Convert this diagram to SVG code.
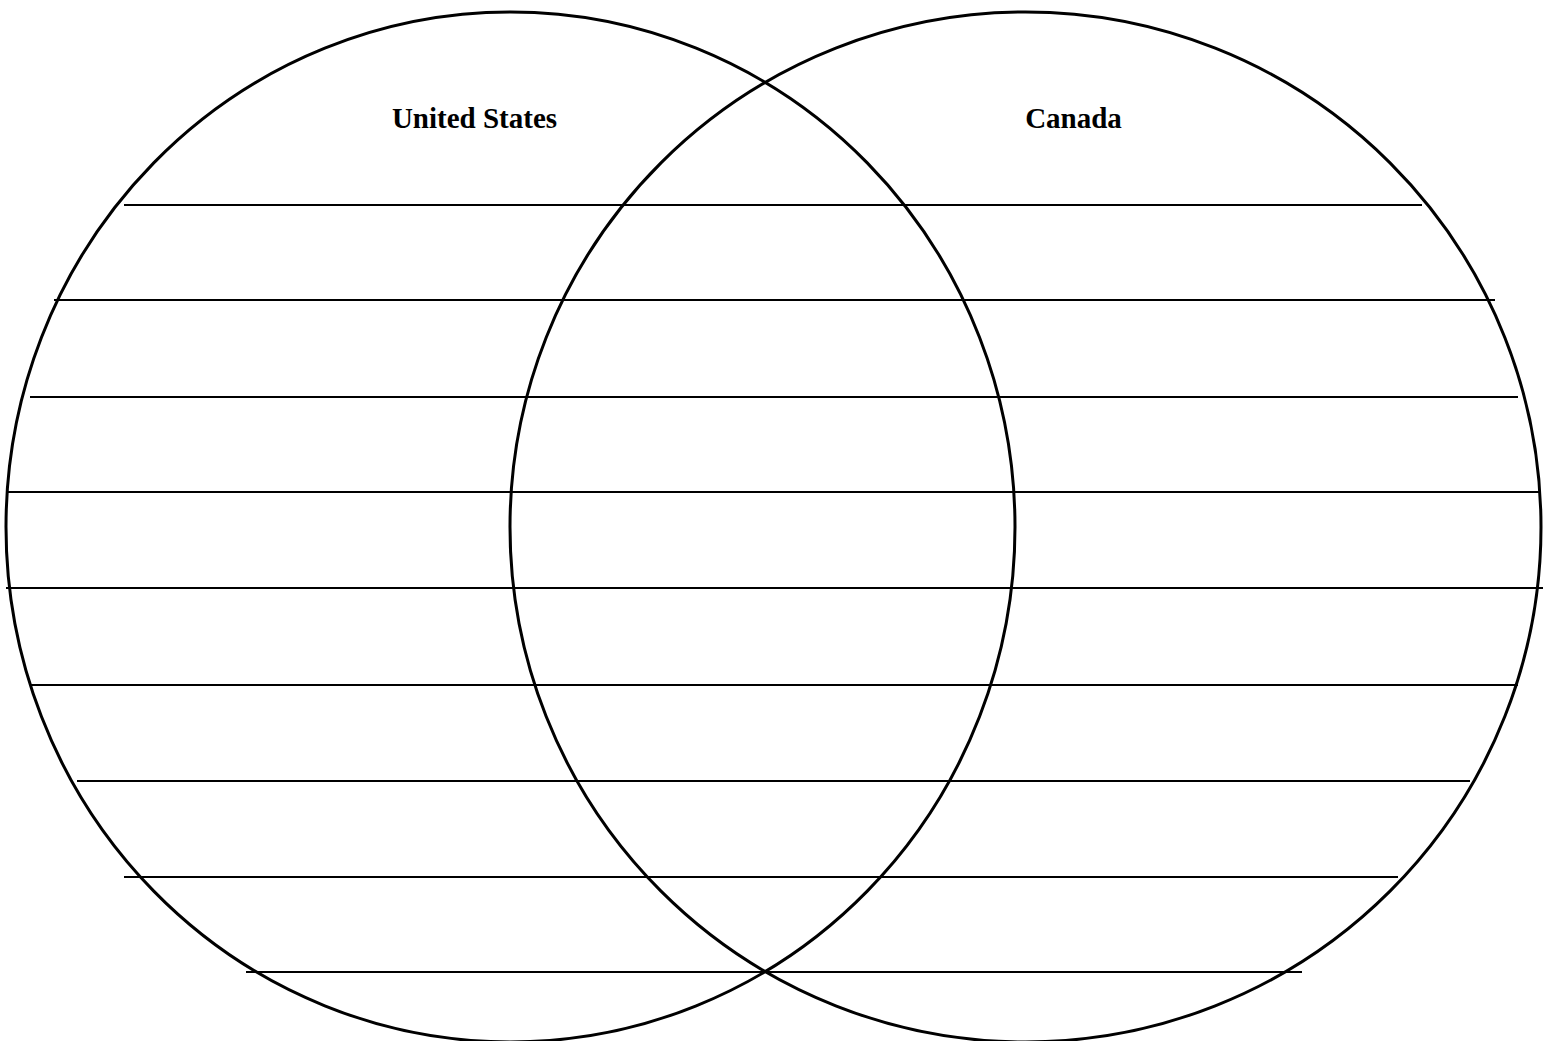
<svg xmlns="http://www.w3.org/2000/svg" width="1554" height="1041" viewBox="0 0 1554 1041">
<style>
.c{fill:none;stroke:#000;stroke-width:3}
.l{stroke:#000;stroke-width:2}
.t{font-family:"Liberation Serif","Times New Roman",serif;font-weight:bold;font-size:29px;fill:#000;text-anchor:middle}
</style>
<rect width="1554" height="1041" fill="#fff"/>
<g id="lines">
<line class="l" x1="124" y1="205" x2="1422" y2="205"/>
<line class="l" x1="54" y1="300" x2="1495" y2="300"/>
<line class="l" x1="30" y1="397" x2="1518" y2="397"/>
<line class="l" x1="8" y1="492" x2="1541" y2="492"/>
<line class="l" x1="6" y1="588" x2="1543" y2="588"/>
<line class="l" x1="30" y1="685" x2="1518" y2="685"/>
<line class="l" x1="77" y1="781" x2="1470" y2="781"/>
<line class="l" x1="124" y1="877" x2="1398" y2="877"/>
<line class="l" x1="246" y1="972" x2="1302" y2="972"/>
</g>
<g id="united-states">
<ellipse class="c" cx="510.5" cy="527" rx="504.5" ry="515"/>
<text class="t" x="474.5" y="128">United States</text>
</g>
<g id="canada">
<ellipse class="c" cx="1025.5" cy="527" rx="515.5" ry="515"/>
<text class="t" x="1073.5" y="128">Canada</text>
</g>
</svg>
